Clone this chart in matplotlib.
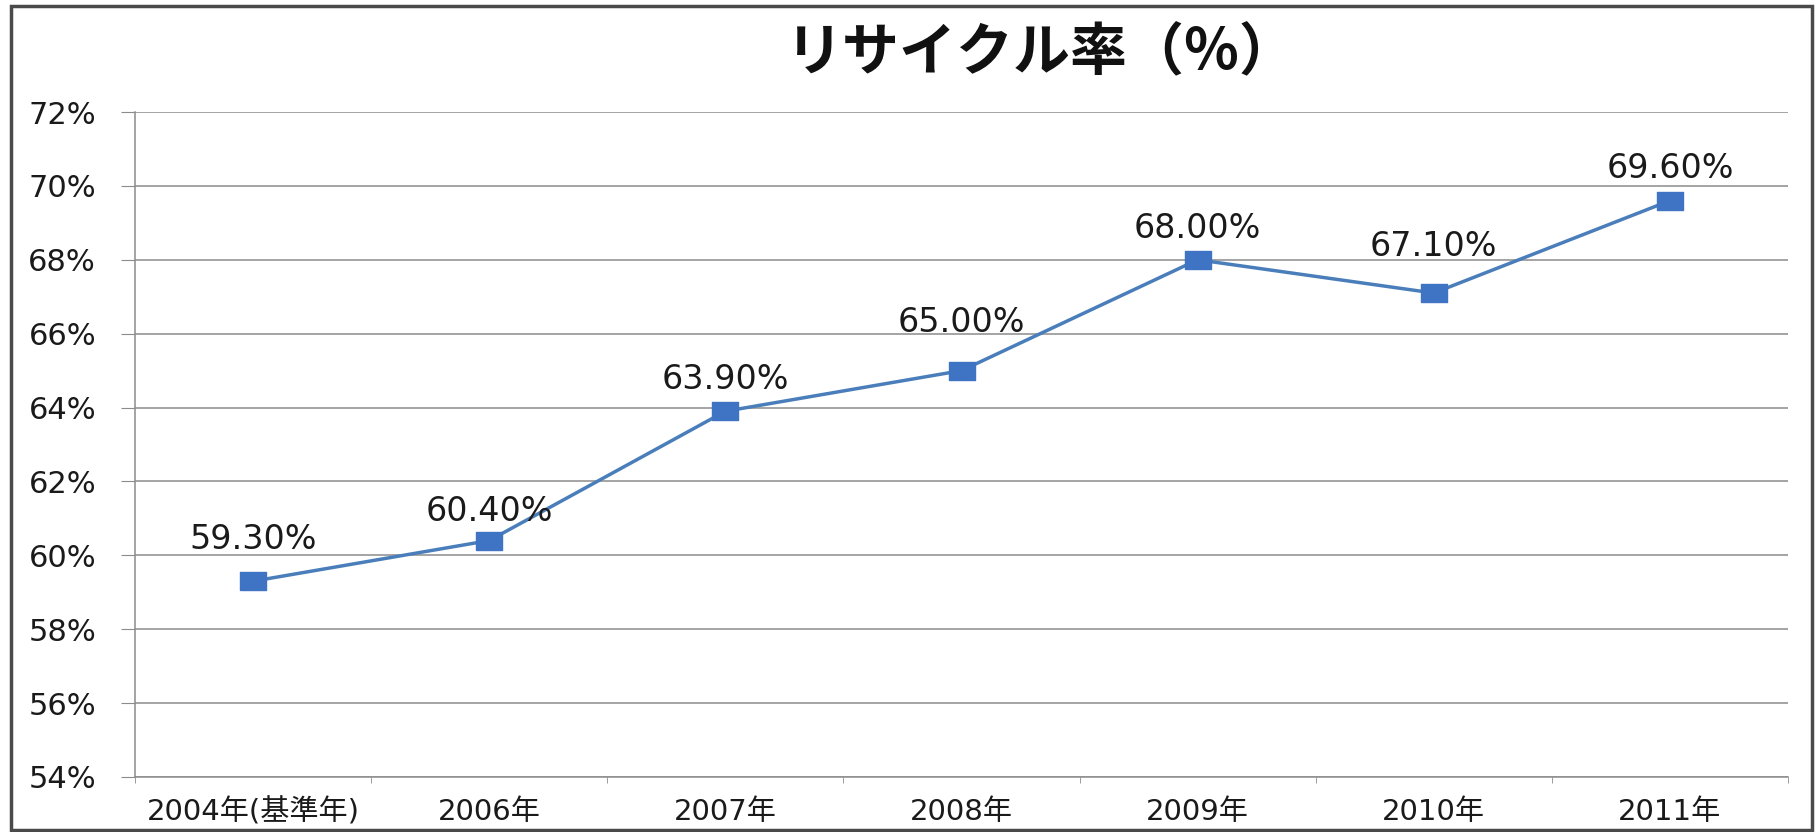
import matplotlib
matplotlib.use("Agg")
from matplotlib import pyplot as plt
from matplotlib.patches import Rectangle
from matplotlib.ticker import FixedLocator, FuncFormatter
import numpy as np

plt.rcParams['font.family'] = ['DejaVu Sans', 'Noto Sans CJK JP']

# data
years = ["2004年(基準年)", "2006年", "2007年", "2008年", "2009年", "2010年", "2011年"]
rates = [59.3, 60.4, 63.9, 65.0, 68.0, 67.1, 69.6]
yticks = [54, 56, 58, 60, 62, 64, 66, 68, 70, 72]
title = "リサイクル率（%）"

line_color = "#4A7EBB"
marker_color = "#3F74C4"
grid_color = "#8C8C8C"
# some data labels were nudged up in the original (points)
label_lift = [23, 14, 16, 28, 16, 27, 16]

fig = plt.figure(figsize=(18.2, 8.32), dpi=100)
ax = fig.add_axes([135 / 1820, 1 - 777 / 832, (1788 - 135) / 1820, (777 - 112) / 832])

x = np.arange(len(years))
# wide rectangle marker, like the (stretched) original
rect_marker = [(-1.5, -1), (1.5, -1), (1.5, 1), (-1.5, 1), (-1.5, -1)]
ax.plot(x, rates, color=line_color, lw=2.5, marker=rect_marker, markersize=19,
        markerfacecolor=marker_color, markeredgecolor=marker_color, zorder=3)

for xi, v, lift in zip(x, rates, label_lift):
    ax.annotate(f"{v:.2f}%", (xi, v), xytext=(0, lift), textcoords="offset points",
                ha="center", va="baseline", fontsize=24, color="#1a1a1a")

ax.set_xlim(-0.5, len(years) - 0.5)
ax.set_ylim(54, 72)
ax.yaxis.set_major_locator(FixedLocator(yticks))
ax.yaxis.set_major_formatter(FuncFormatter(lambda v, p: f"{v:.0f}%"))
ax.grid(axis="y", color=grid_color, lw=1.1)
ax.set_axisbelow(True)

ax.set_xticks(x)
ax.set_xticklabels(years)
ax.xaxis.set_minor_locator(FixedLocator(np.arange(-0.5, len(years), 1)))
ax.tick_params(axis="x", which="major", length=0, pad=15, labelsize=21, labelcolor="#1a1a1a")
ax.tick_params(axis="x", which="minor", length=4, color=grid_color, direction="out")
ax.tick_params(axis="y", length=10, color=grid_color, pad=18, labelsize=22, labelcolor="#1a1a1a")

for s in ["top", "right"]:
    ax.spines[s].set_visible(False)
ax.spines["left"].set_color(grid_color)
ax.spines["bottom"].set_color(grid_color)
ax.spines["left"].set_linewidth(1.1)
ax.spines["bottom"].set_linewidth(1.1)

fig.text(1041 / 1820, 1 - 53 / 832, title, ha="center", va="center", fontsize=41,
         fontweight="bold", family=["Noto Sans CJK JP", "DejaVu Sans"], color="#111111")

# chart frame
fig.patches.append(Rectangle((11 / 1820, 2 / 832), (1812 - 11) / 1820, (826 - 2) / 832,
                             transform=fig.transFigure, fill=False, edgecolor="#4a4a4a", lw=2.5))

fig.savefig("out.png", dpi=100)
